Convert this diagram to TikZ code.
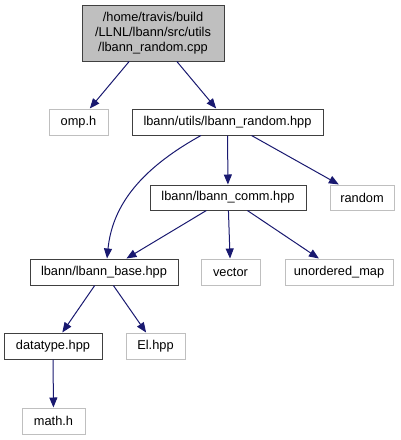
\documentclass[tikz,border=0pt]{standalone}
\usepackage{fontspec}
\setmainfont{Liberation Sans}
\usetikzlibrary{arrows.meta,calc}
\definecolor{edgeblue}{HTML}{191970}
\definecolor{grey75}{HTML}{BFBFBF}
\definecolor{darkborder}{HTML}{404040}
\begin{document}
\begin{tikzpicture}[x=1pt,y=-1pt,
  base/.style={rectangle,inner sep=0pt,font=\fontsize{12.8pt}{15pt}\selectfont,line width=1pt,text=black},
  doc/.style={base,draw=darkborder,fill=white},
  ext/.style={base,draw=grey75,fill=white},
  rootbox/.style={base,draw=darkborder,fill=grey75,align=center},
  edge/.style={draw=edgeblue,line width=1pt,-{Triangle[length=10pt,width=8pt]}}]
\useasboundingbox (0,0) rectangle (400,440);
\node[rootbox,minimum width=142pt,minimum height=56pt] (root) at (153,33)
  {/home/travis/build\hspace{12pt}\\/LLNL/lbann/src/utils\\/lbann\_random.cpp};
\node[ext,minimum width=59pt,minimum height=26pt] (omp) at (78.5,122) {omp.h};
\node[doc,minimum width=191pt,minimum height=26pt] (rhpp) at (227.5,122) {lbann/utils/lbann\_random.hpp};
\node[doc,minimum width=156pt,minimum height=25pt] (comm) at (228,197.5) {lbann/lbann\_comm.hpp};
\node[ext,minimum width=64pt,minimum height=25pt] (random) at (362,197.5) {random};
\node[doc,minimum width=148pt,minimum height=26pt] (lbase) at (104,272) {lbann/lbann\_base.hpp};
\node[ext,minimum width=59pt,minimum height=26pt] (vector) at (230.5,272) {vector};
\node[ext,minimum width=108pt,minimum height=26pt] (umap) at (339,272) {unordered\_map};
\node[doc,minimum width=98pt,minimum height=26pt] (dtype) at (53,346) {datatype.hpp};
\node[ext,minimum width=59pt,minimum height=26pt] (el) at (155.5,346) {El.hpp};
\node[ext,minimum width=63pt,minimum height=26pt] (math) at (53.5,421) {math.h};
\draw[edge] (root) -- (omp);
\draw[edge] (root) -- (rhpp);
\draw[edge] (rhpp) -- (comm);
\draw[edge] (rhpp) -- (random);
\draw[edge] ($(rhpp.south)+(-26.5,0)$) .. controls (135,172) and (112,210) .. ($(lbase.north)+(3,0)$);
\draw[edge] (comm) -- (lbase);
\draw[edge] (comm) -- (vector);
\draw[edge] (comm) -- (umap);
\draw[edge] (lbase) -- (dtype);
\draw[edge] (lbase) -- (el);
\draw[edge] (dtype) -- (math);
\end{tikzpicture}
\end{document}
